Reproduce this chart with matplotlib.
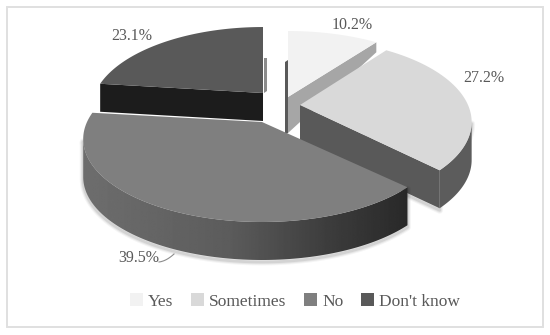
import numpy as np
import matplotlib
matplotlib.use("Agg")
import matplotlib.pyplot as plt
from matplotlib.patches import Patch, Polygon, Rectangle

categories = ["Yes", "Sometimes", "No", "Don't know"]
values = [10.2, 27.2, 39.5, 23.1]
top_colors = ["#f2f2f2", "#d9d9d9", "#7f7f7f", "#595959"]

# layout of the exploded 3D pie, in pixels of the 550x335 canvas
apex = [(288, 97), (300, 105), (262, 122), (263, 93)]
radius = [172, 168, 175, 168]
depth = [36, 38, 38, 28]
side_colors = ["#a6a6a6", "#5c5c5c", None, "#1c1c1c"]
PERSP = 0.205
RY = 79.5
TEXT = "#595959"

plt.rcParams["font.family"] = ["Liberation Serif", "DejaVu Serif"]
fig = plt.figure(figsize=(5.5, 3.35), dpi=100)
ax = fig.add_axes([0, 0, 1, 1])
ax.set_xlim(0, 550)
ax.set_ylim(335, 0)
ax.axis("off")


def arc(i, a0, a1, n=120):
    t = np.radians(np.linspace(a0, a1, n))
    X, Y = np.sin(t), -np.cos(t)
    d = 1 - PERSP * Y
    return np.column_stack([apex[i][0] + radius[i] * X / d, apex[i][1] + RY * Y / d])


def shadow(pts, z):
    for lw, al in [(5, 0.04), (3.5, 0.06), (2, 0.08)]:
        ax.add_patch(Polygon(pts + [0, 2], closed=True, fc="none", ec="k", lw=lw, alpha=al,
                             zorder=z, joinstyle="round"))


edges = np.concatenate([[0], np.cumsum(values)]) / sum(values) * 360
YES, SOM, NO, DK = 0, 1, 2, 3
o = np.array([0, 1])

# Don't know
i = DK
a = arc(i, edges[i], edges[i + 1])
p = np.array(apex[i], float)
front = np.array([a[0], p, p + o * depth[i], a[0] + o * depth[i]])
ax.add_patch(Polygon([[p[0] + 1, p[1] - 35], [p[0] + 4, p[1] - 35], [p[0] + 4, p[1] - 2], [p[0] + 1, p[1]]],
                     fc="#8c8c8c", ec="none", zorder=1))
ax.add_patch(Polygon(front, fc=side_colors[i], ec="none", zorder=2))
ax.add_patch(Polygon(np.vstack([p, a]), fc=top_colors[i], ec="none", zorder=3))

# Yes
i = YES
a = arc(i, edges[i], edges[i + 1])
p = np.array(apex[i], float)
ax.add_patch(Polygon([[p[0] - 3, p[1] - 35], [p[0], p[1] - 37], [p[0], p[1] + 36], [p[0] - 3, p[1] + 38]],
                     fc="#595959", ec="none", zorder=4))
ax.add_patch(Polygon([a[-1], p, p + o * depth[i], a[-1] + o * 10], fc=side_colors[i], ec="none", zorder=5))
ax.add_patch(Polygon(np.vstack([p, a]), fc=top_colors[i], ec="none", zorder=6))

# Sometimes
i = SOM
a = arc(i, edges[i], edges[i + 1])
p = np.array(apex[i], float)
right = int(np.argmax(a[:, 0]))
outer = np.vstack([a[right:], a[right:][::-1] + o * depth[i]])
inner = np.array([a[-1], p, p + o * depth[i], a[-1] + o * depth[i]])
shadow(np.vstack([a[right:], a[-1] + o * depth[i], p + o * depth[i]]), 7)
ax.add_patch(Polygon(outer, fc=side_colors[i], ec="none", zorder=8))
ax.add_patch(Polygon(inner, fc="#595959", ec="none", zorder=8))
ax.add_patch(Polygon(np.vstack([p, a]), fc=top_colors[i], ec="none", zorder=9))

# No
i = NO
a = arc(i, edges[i], edges[i + 1])
p = np.array(apex[i], float)
left = int(np.argmin(a[:, 0]))
side_pts = np.vstack([a[:left + 1], a[:left + 1][::-1] + o * depth[i]])
shadow(side_pts, 10)
x0, x1 = a[:, 0].min() - 1, a[:, 0].max() + 1
y0, y1 = a[:, 1].min(), a[:, 1].max() + depth[i] + 2
stops_x = np.array([0.0, 0.45, 0.75, 1.0])
stops_v = np.array([0.43, 0.36, 0.24, 0.16])
grad = np.interp(np.linspace(0, 1, 256), stops_x, stops_v)[None, :]
im = ax.imshow(grad, extent=[x0, x1, y1, y0], cmap="gray", vmin=0, vmax=1, aspect="auto", zorder=11)
clip = Polygon(side_pts, transform=ax.transData, fc="none", ec="none")
ax.add_patch(clip)
im.set_clip_path(clip)
ax.add_patch(Polygon(np.vstack([p, a]), fc=top_colors[i], ec="none", zorder=12))
ax.set_xlim(0, 550)
ax.set_ylim(335, 0)

# labels
label_pos = [(352, 25), (484, 78), (139, 258), (132, 36)]
for v, (x, y) in zip(values, label_pos):
    ax.text(x, y, f"{v}%", ha="center", va="center", fontsize=11.5, color=TEXT, zorder=20)
t = np.linspace(0, 1, 20)
ax.plot(159 + 15 * t, 262 - 2 * t - 6 * t ** 2, color="#8c8c8c", lw=0.8, zorder=20)

# frame
ax.add_patch(Rectangle((6.5, 7), 536, 320, fc="none", ec="#e0e0e0", lw=1.4, zorder=0))

# legend
handles = [Patch(fc=c, ec="none") for c in top_colors]
ax.legend(handles, categories, ncol=4, loc="center", bbox_to_anchor=(0.536, 0.1), frameon=False,
          fontsize=12.5, labelcolor=TEXT, handlelength=0.75, handleheight=0.75, handletextpad=0.3,
          columnspacing=1.0, borderpad=0)

fig.savefig("out.png", dpi=100)
